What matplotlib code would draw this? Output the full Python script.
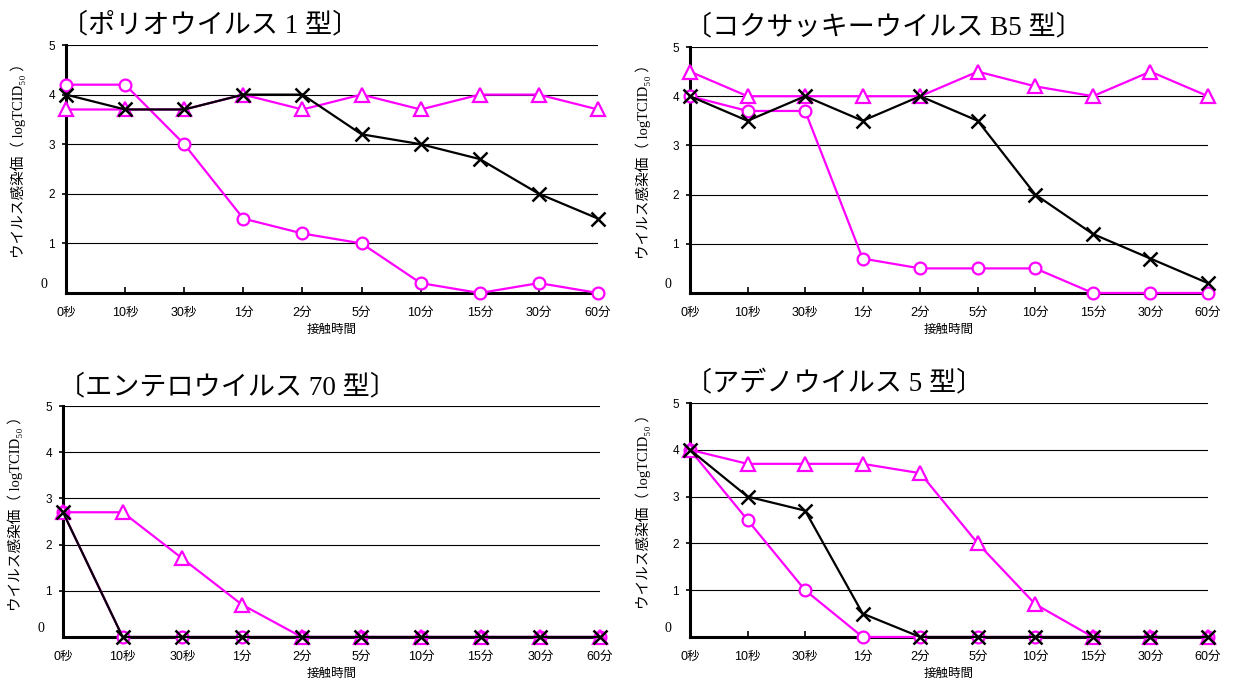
import matplotlib
matplotlib.use("Agg")
import matplotlib.pyplot as plt
import numpy as np

plt.rcParams['font.family'] = ['Liberation Sans', 'Noto Sans CJK JP', 'DejaVu Sans']

times = ['0秒', '10秒', '30秒', '1分', '2分', '5分', '10分', '15分', '30分', '60分']

titles = ['〔ポリオウイルス 1 型〕', '〔コクサッキーウイルス B5 型〕',
          '〔エンテロウイルス 70 型〕', '〔アデノウイルス 5 型〕']

# black x
cross_polio = [4.0, 3.7, 3.7, 4.0, 4.0, 3.2, 3.0, 2.7, 2.0, 1.5]
cross_coxsackie = [4.0, 3.5, 4.0, 3.5, 4.0, 3.5, 2.0, 1.2, 0.7, 0.2]
cross_entero = [2.7, 0, 0, 0, 0, 0, 0, 0, 0, 0]
cross_adeno = [4.0, 3.0, 2.7, 0.5, 0, 0, 0, 0, 0, 0]

# magenta circle
circle_polio = [4.2, 4.2, 3.0, 1.5, 1.2, 1.0, 0.2, 0.0, 0.2, 0.0]
circle_coxsackie = [4.0, 3.7, 3.7, 0.7, 0.5, 0.5, 0.5, 0, 0, 0]
circle_entero = [2.7, 0, 0, 0, 0, 0, 0, 0, 0, 0]
circle_adeno = [4.0, 2.5, 1.0, 0, 0, 0, 0, 0, 0, 0]

# magenta triangle
tri_polio = [3.7, 3.7, 3.7, 4.0, 3.7, 4.0, 3.7, 4.0, 4.0, 3.7]
tri_coxsackie = [4.5, 4.0, 4.0, 4.0, 4.0, 4.5, 4.2, 4.0, 4.5, 4.0]
tri_entero = [2.7, 2.7, 1.7, 0.7, 0, 0, 0, 0, 0, 0]
tri_adeno = [4.0, 3.7, 3.7, 3.7, 3.5, 2.0, 0.7, 0, 0, 0]

crosses = [cross_polio, cross_coxsackie, cross_entero, cross_adeno]
circles = [circle_polio, circle_coxsackie, circle_entero, circle_adeno]
tris = [tri_polio, tri_coxsackie, tri_entero, tri_adeno]

W, H = 1234, 684
# axes boxes in pixels: left, right, top(y=5), bottom(y=0)
boxes = [(66, 598, 45, 293), (690, 1208, 47, 293),
         (63, 600, 406, 637), (690, 1208, 403, 637)]

MAG = '#FF00FF'
serif_cjk = ['Liberation Serif', 'Noto Sans CJK JP', 'DejaVu Sans']

fig = plt.figure(figsize=(W / 100, H / 100), dpi=100)

for i, (l, r, t, b) in enumerate(boxes):
    ax = fig.add_axes([l / W, 1 - b / H, (r - l) / W, (b - t) / H])
    x = np.arange(len(times))

    for yv in range(1, 6):
        ax.axhline(yv, color='black', lw=0.8, zorder=1)

    ax.plot(x, circles[i], color=MAG, lw=1.6, marker='o', ms=8.5, mfc='white',
            mec=MAG, mew=1.6, clip_on=False, zorder=3)
    ax.plot(x, tris[i], color=MAG, lw=1.6, marker='^', ms=9.5, mfc='white',
            mec=MAG, mew=1.6, clip_on=False, zorder=3)
    ax.plot(x, crosses[i], color='black', lw=1.6, marker='x', ms=9.5,
            mec='black', mew=1.8, clip_on=False, zorder=4)

    ax.set_xlim(0, 9)
    ax.set_ylim(0, 5)
    ax.set_xticks(x)
    ax.set_xticklabels(times, fontsize=9)
    ax.set_yticks([1, 2, 3, 4, 5])
    ax.set_yticklabels(['1', '2', '3', '4', '5'], fontsize=8.5)
    ax.tick_params(axis='x', direction='in', length=4, width=1.2, pad=10)
    ax.tick_params(axis='y', direction='out', length=3, width=1.2, pad=5)

    for s in ['top', 'right']:
        ax.spines[s].set_visible(False)
    for s in ['left', 'bottom']:
        ax.spines[s].set_linewidth(2.2)
        ax.spines[s].set_zorder(2)

    ax.text(-0.035, 0.035, '0', transform=ax.transAxes, fontsize=10,
            family=serif_cjk, ha='right', va='center')

    ax.set_xlabel('接触時間', fontsize=9, labelpad=4)
    ax.set_ylabel('ウイルス感染価（ logTCID₅₀ ）', fontsize=10.5, family=serif_cjk)
    ax.yaxis.set_label_coords(-0.075, 0.55)

    ax.text(-0.01, 1.08, titles[i], transform=ax.transAxes, fontsize=19.5,
            family=serif_cjk, ha='left', va='center')

fig.savefig('out.png', dpi=100)
